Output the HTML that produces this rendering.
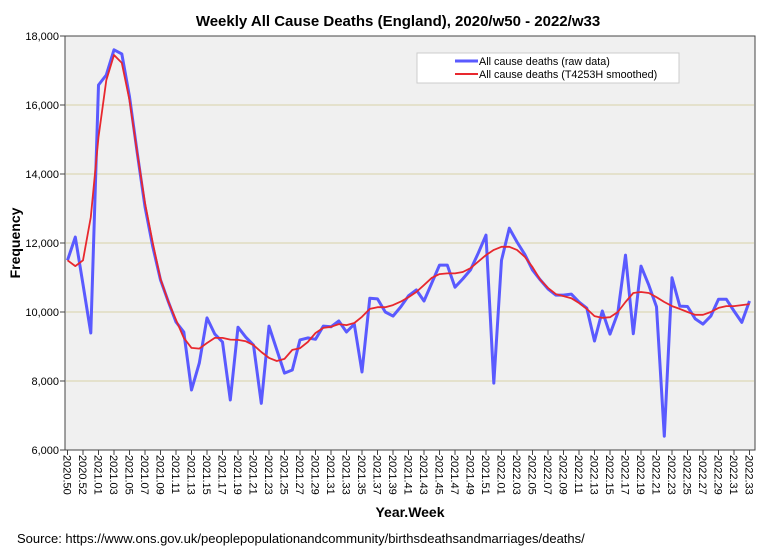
<!DOCTYPE html>
<html><head><meta charset="utf-8"><style>
body{margin:0;background:#fff;}
svg{display:block;font-family:"Liberation Sans",Arial,sans-serif;}
</style></head><body>
<svg id="chart" width="773" height="560" viewBox="0 0 773 560" xmlns="http://www.w3.org/2000/svg">
<rect width="773" height="560" fill="#fff"/>
<text x="398" y="26" text-anchor="middle" font-size="15" font-weight="bold">Weekly All Cause Deaths (England), 2020/w50 - 2022/w33</text>
<rect x="65" y="36" width="690" height="414" fill="#f0f0f0" stroke="#444" stroke-width="1"/>
<g id="grid"></g>
<g id="yaxis"></g>
<g id="xaxis"></g>
<g id="series"></g>
<text transform="translate(20,243) rotate(-90)" text-anchor="middle" font-size="14" font-weight="bold">Frequency</text>
<text x="410" y="517" text-anchor="middle" font-size="14" font-weight="bold">Year.Week</text>
<text x="17" y="543" font-size="13">Source: https://www.ons.gov.uk/peoplepopulationandcommunity/birthsdeathsandmarriages/deaths/</text>
<g>
<rect x="417" y="53" width="262" height="30" fill="#fff" stroke="#ccc" stroke-width="1"/>
<line x1="455" y1="61" x2="478" y2="61" stroke="#5a5aff" stroke-width="3"/>
<text x="479" y="65" font-size="10.8">All cause deaths (raw data)</text>
<line x1="455" y1="74" x2="478" y2="74" stroke="#e8282e" stroke-width="2"/>
<text x="479" y="78" font-size="10.8">All cause deaths (T4253H smoothed)</text>
</g>
</svg>
<script>
const categories=["2020.50","2020.51","2020.52","2020.53","2021.01","2021.02","2021.03","2021.04","2021.05","2021.06","2021.07","2021.08","2021.09","2021.10","2021.11","2021.12","2021.13","2021.14","2021.15","2021.16","2021.17","2021.18","2021.19","2021.20","2021.21","2021.22","2021.23","2021.24","2021.25","2021.26","2021.27","2021.28","2021.29","2021.30","2021.31","2021.32","2021.33","2021.34","2021.35","2021.36","2021.37","2021.38","2021.39","2021.40","2021.41","2021.42","2021.43","2021.44","2021.45","2021.46","2021.47","2021.48","2021.49","2021.50","2021.51","2021.52","2022.01","2022.02","2022.03","2022.04","2022.05","2022.06","2022.07","2022.08","2022.09","2022.10","2022.11","2022.12","2022.13","2022.14","2022.15","2022.16","2022.17","2022.18","2022.19","2022.20","2022.21","2022.22","2022.23","2022.24","2022.25","2022.26","2022.27","2022.28","2022.29","2022.30","2022.31","2022.32","2022.33"];
const rawDeaths=[11500,12170,10800,9390,16580,16870,17600,17480,16240,14600,13050,11890,10930,10300,9710,9420,7740,8520,9830,9360,9130,7450,9560,9270,9040,7350,9590,8900,8230,8320,9190,9250,9210,9590,9570,9740,9420,9650,8260,10400,10380,10000,9880,10150,10470,10640,10320,10840,11360,11360,10720,10960,11220,11710,12230,7940,11500,12430,12030,11670,11220,10930,10670,10490,10490,10520,10290,10110,9160,10030,9360,9970,11650,9370,11330,10780,10150,6400,10990,10170,10160,9800,9650,9880,10370,10370,10030,9700,10320];
const smoothedDeaths=[11500,11330,11500,12750,15070,16720,17450,17220,16140,14600,13160,12000,10960,10300,9770,9250,8960,8940,9100,9250,9250,9200,9190,9150,9040,8840,8670,8580,8640,8900,8950,9130,9390,9540,9570,9650,9620,9680,9860,10090,10140,10140,10200,10300,10430,10580,10780,10990,11100,11120,11120,11160,11270,11460,11650,11800,11890,11890,11800,11600,11300,10930,10700,10520,10460,10400,10260,10090,9880,9830,9850,10000,10290,10550,10580,10550,10430,10290,10170,10090,10000,9920,9920,10000,10120,10170,10170,10200,10230];
const yTicks=[6000,8000,10000,12000,14000,16000,18000];
const yTickLabels=["6,000","8,000","10,000","12,000","14,000","16,000","18,000"];

const NS="http://www.w3.org/2000/svg";
const X0=67.5,X1=749.5,Y0=450,Y1=36,VMIN=6000,VMAX=18000;
function xScale(i){return X0+(X1-X0)*i/(categories.length-1);}
function yScale(v){return Y0-(v-VMIN)/(VMAX-VMIN)*(Y0-Y1);}
function mk(tag,attrs,parent){const e=document.createElementNS(NS,tag);for(const k in attrs)e.setAttribute(k,attrs[k]);parent.appendChild(e);return e;}
const grid=document.getElementById('grid'),ya=document.getElementById('yaxis'),xa=document.getElementById('xaxis'),ser=document.getElementById('series');
yTicks.forEach((v,k)=>{
  const y=yScale(v);
  if(v>VMIN&&v<VMAX){const g=mk('line',{x1:66,x2:754,y1:y,y2:y,stroke:'#e0dcc0','stroke-width':1.5},grid);
  
  }
  const t=mk('line',{x1:60,x2:65,y1:y,y2:y,stroke:'#444'},ya);
  
  
  const l=mk('text',{x:59,y:y+4,'text-anchor':'end','font-size':11},ya);
  
  
  l.textContent=yTickLabels[k];
});
categories.forEach((c,i)=>{
  if(i%2!==0)return;
  const x=xScale(i);
  const t=mk('line',{x1:x,x2:x,y1:450,y2:455,stroke:'#444'},xa);
  
  
  const l=mk('text',{transform:`translate(${x-4},455) rotate(90)`,'font-size':11},xa);
  
  
  l.textContent=c;
});
function line(vals,color,w,name){
  const p=mk('polyline',{points:vals.map((v,i)=>xScale(i).toFixed(1)+','+yScale(v).toFixed(1)).join(' '),fill:'none',stroke:color,'stroke-width':w,'stroke-linejoin':'round'},ser);
  
  
}
line(rawDeaths,'#5a5aff',3,'raw-deaths-line');
line(smoothedDeaths,'#e8282e',1.8,'smoothed-deaths-line');
</script>
</body></html>
